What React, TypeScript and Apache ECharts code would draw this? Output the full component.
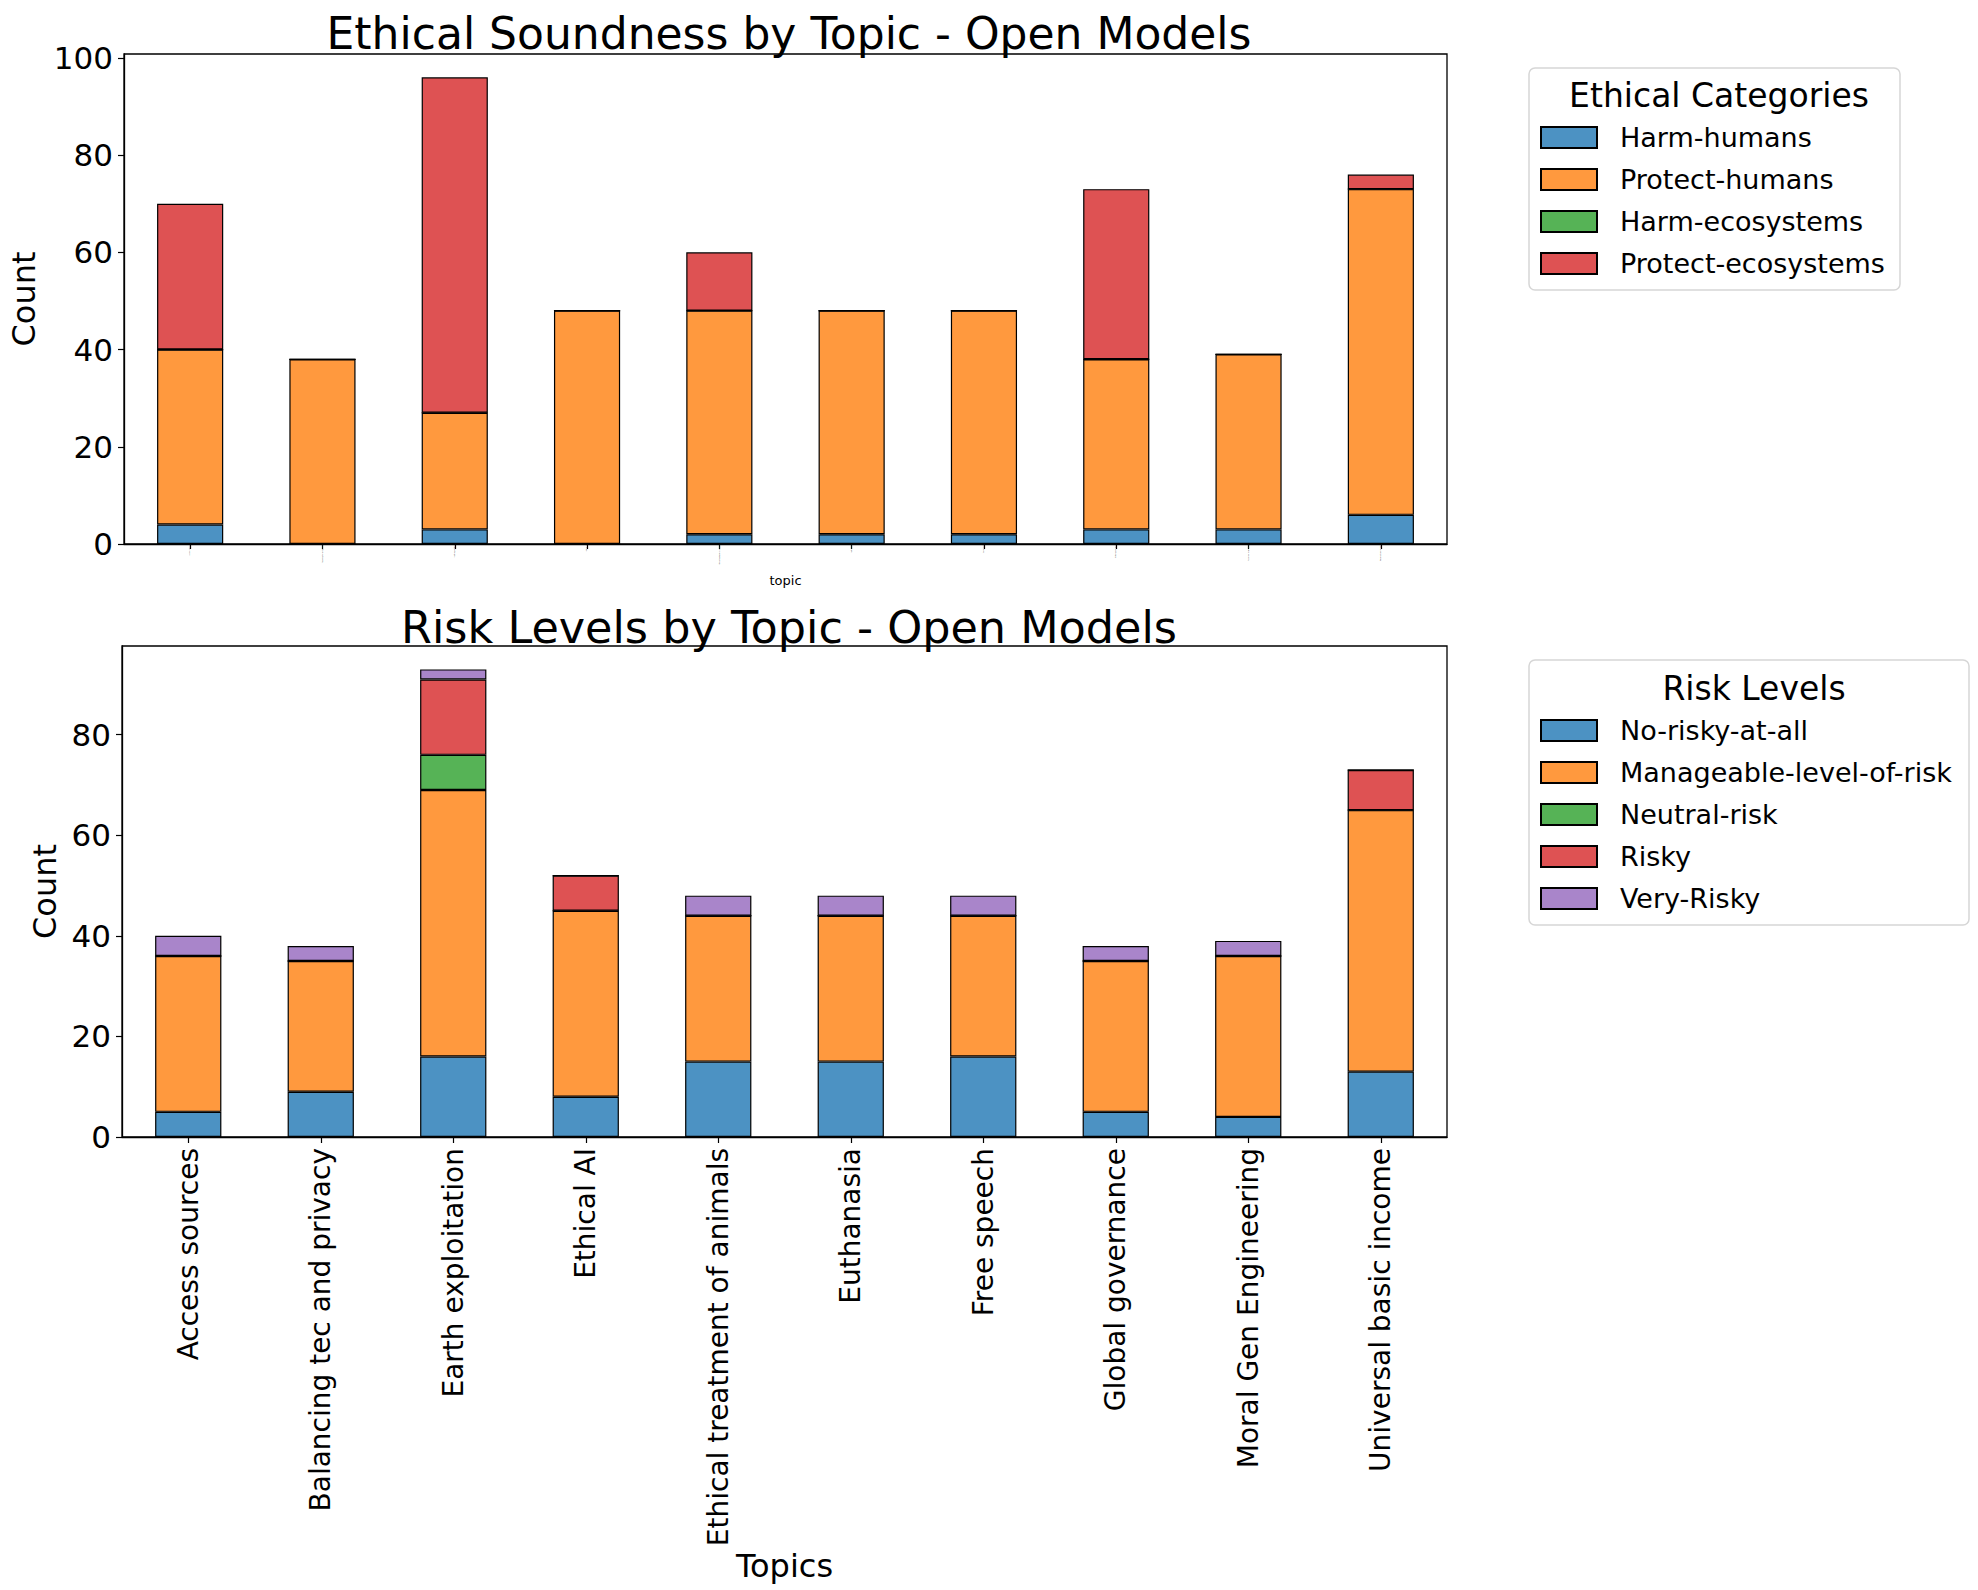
import React, { useEffect, useRef } from "react";
import * as echarts from "echarts";

const topics = [
  "Access sources",
  "Balancing tec and privacy",
  "Earth exploitation",
  "Ethical AI",
  "Ethical treatment of animals",
  "Euthanasia",
  "Free speech",
  "Global governance",
  "Moral Gen Engineering",
  "Universal basic income",
];

const ethicalNames = ["Harm-humans", "Protect-humans", "Harm-ecosystems", "Protect-ecosystems"];
const harmHumans = [4, 0, 3, 0, 2, 2, 2, 3, 3, 6];
const protectHumans = [36, 38, 24, 48, 46, 46, 46, 35, 36, 67];
const harmEcosystems = [0, 0, 0, 0, 0, 0, 0, 0, 0, 0];
const protectEcosystems = [30, 0, 69, 0, 12, 0, 0, 35, 0, 3];

const riskNames = ["No-risky-at-all", "Manageable-level-of-risk", "Neutral-risk", "Risky", "Very-Risky"];
const noRisky = [5, 9, 16, 8, 15, 15, 16, 5, 4, 13];
const manageable = [31, 26, 53, 37, 29, 29, 28, 30, 32, 52];
const neutralRisk = [0, 0, 7, 0, 0, 0, 0, 0, 0, 0];
const risky = [0, 0, 15, 7, 0, 0, 0, 0, 0, 8];
const veryRisky = [4, 3, 2, 0, 4, 4, 4, 3, 3, 0];

const yTicksTop = [0, 20, 40, 60, 80, 100];
const yTicksBottom = [0, 20, 40, 60, 80];

const colors = ["#4c92c3", "#ff993e", "#56b356", "#de5253", "#a985ca"];
const FONT = "DejaVu Sans";

export default function App() {
  const ref = useRef<HTMLDivElement>(null);
  useEffect(() => {
    document.body.style.margin = "0";
    const chart = echarts.init(ref.current!, undefined, { renderer: "svg" });
    const ethicalData = [harmHumans, protectHumans, harmEcosystems, protectEcosystems];
    const riskData = [noRisky, manageable, neutralRisk, risky, veryRisky];

    const mkSeries = (name: string, data: number[], idx: number, color: string, stack: string) => ({
      name,
      type: "bar",
      stack,
      xAxisIndex: idx,
      yAxisIndex: idx,
      barWidth: "50%",
      data,
      itemStyle: { color, borderColor: "#000", borderWidth: 1.2 },
      emphasis: { disabled: true },
    });

    const series: any[] = [];
    ethicalNames.forEach((n, i) => series.push(mkSeries(n, ethicalData[i], 0, colors[i], "eth")));
    riskNames.forEach((n, i) => series.push(mkSeries(n, riskData[i], 1, colors[i], "risk")));

    const yFmt = (ticks: number[]) => (v: number) => (ticks.includes(Math.round(v * 1000) / 1000) ? String(v) : "");

    const yAxisBase = (max: number, ticks: number[], gap: number) => ({
      type: "value",
      min: 0,
      max,
      interval: 20,
      name: "Count",
      nameLocation: "middle",
      nameGap: gap,
      nameTextStyle: { fontSize: 32, fontFamily: FONT, color: "#000" },
      axisLine: { show: true, lineStyle: { color: "#000", width: 1.3 } },
      axisTick: { show: true, length: 6, lineStyle: { color: "#000", width: 1.2 } },
      axisLabel: { fontSize: 31, fontFamily: FONT, color: "#000", margin: 11, formatter: yFmt(ticks), showMaxLabel: false },
      splitLine: { show: false },
    });

    const option: any = {
      animation: false,
      backgroundColor: "#fff",
      title: [
        {
          text: "Ethical Soundness by Topic - Open Models",
          left: 784,
          top: 6,
          textAlign: "center",
          textStyle: { fontSize: 44, fontWeight: "normal", fontFamily: FONT, color: "#000" },
        },
        {
          text: "Risk Levels by Topic - Open Models",
          left: 784,
          top: 600,
          textAlign: "center",
          textStyle: { fontSize: 44.5, fontWeight: "normal", fontFamily: FONT, color: "#000" },
        },
        {
          text: "Ethical Categories",
          left: 1714,
          top: 74,
          textAlign: "center",
          textStyle: { fontSize: 33, fontWeight: "normal", fontFamily: FONT, color: "#000" },
        },
        {
          text: "Risk Levels",
          left: 1749,
          top: 667,
          textAlign: "center",
          textStyle: { fontSize: 33, fontWeight: "normal", fontFamily: FONT, color: "#000" },
        },
      ],
      grid: [
        { left: 122, top: 54, width: 1325, height: 490, show: true, borderColor: "#000", borderWidth: 1.3, backgroundColor: "transparent" },
        { left: 122, top: 646, width: 1325, height: 491, show: true, borderColor: "#000", borderWidth: 1.3, backgroundColor: "transparent" },
      ],
      xAxis: [
        {
          type: "category",
          gridIndex: 0,
          data: topics,
          name: "topic",
          nameLocation: "middle",
          nameGap: 30,
          nameTextStyle: { fontSize: 13, fontFamily: FONT, color: "#000" },
          axisLine: { lineStyle: { color: "#000", width: 1.3 } },
          axisTick: { show: true, alignWithLabel: true, length: 5, lineStyle: { color: "#000", width: 1.2 } },
          axisLabel: { rotate: 90, fontSize: 1.4, color: "#555", fontFamily: FONT, margin: 1, interval: 0 },
        },
        {
          type: "category",
          gridIndex: 1,
          data: topics,
          name: "Topics",
          nameLocation: "middle",
          nameGap: 405,
          nameTextStyle: { fontSize: 32, fontFamily: FONT, color: "#000" },
          axisLine: { lineStyle: { color: "#000", width: 1.3 } },
          axisTick: { show: true, alignWithLabel: true, length: 6, lineStyle: { color: "#000", width: 1.2 } },
          axisLabel: { rotate: 90, fontSize: 28, color: "#000", fontFamily: FONT, margin: 11, interval: 0 },
        },
      ],
      yAxis: [
        { ...yAxisBase(100.8, yTicksTop, 84), gridIndex: 0 },
        { ...yAxisBase(97.65, yTicksBottom, 61), gridIndex: 1 },
      ],
      legend: [
        {
          data: ethicalNames,
          orient: "vertical",
          left: 1540,
          top: 124,
          padding: 0,
          itemWidth: 56,
          itemHeight: 21,
          itemGap: 15,
          icon: "rect",
          selectedMode: false,
          z: 5,
          textStyle: { fontSize: 27, lineHeight: 27, fontFamily: FONT, color: "#000", padding: [0, 0, 0, 18] },
        },
        {
          data: riskNames,
          orient: "vertical",
          left: 1540,
          top: 717,
          padding: 0,
          itemWidth: 56,
          itemHeight: 21,
          itemGap: 15,
          icon: "rect",
          selectedMode: false,
          z: 5,
          textStyle: { fontSize: 27, lineHeight: 27, fontFamily: FONT, color: "#000", padding: [0, 0, 0, 18] },
        },
      ],
      graphic: [
        {
          type: "rect",
          z: 0,
          shape: { x: 1529, y: 68, width: 371, height: 222, r: 6 },
          style: { fill: "#fff", stroke: "#d6d6d6", lineWidth: 1.5 },
        },
        {
          type: "rect",
          z: 0,
          shape: { x: 1529, y: 660, width: 440, height: 265, r: 6 },
          style: { fill: "#fff", stroke: "#d6d6d6", lineWidth: 1.5 },
        },
      ],
      series,
    };
    chart.setOption(option);
    return () => chart.dispose();
  }, []);
  return <div ref={ref} style={{ width: 1978, height: 1590 }} />;
}
